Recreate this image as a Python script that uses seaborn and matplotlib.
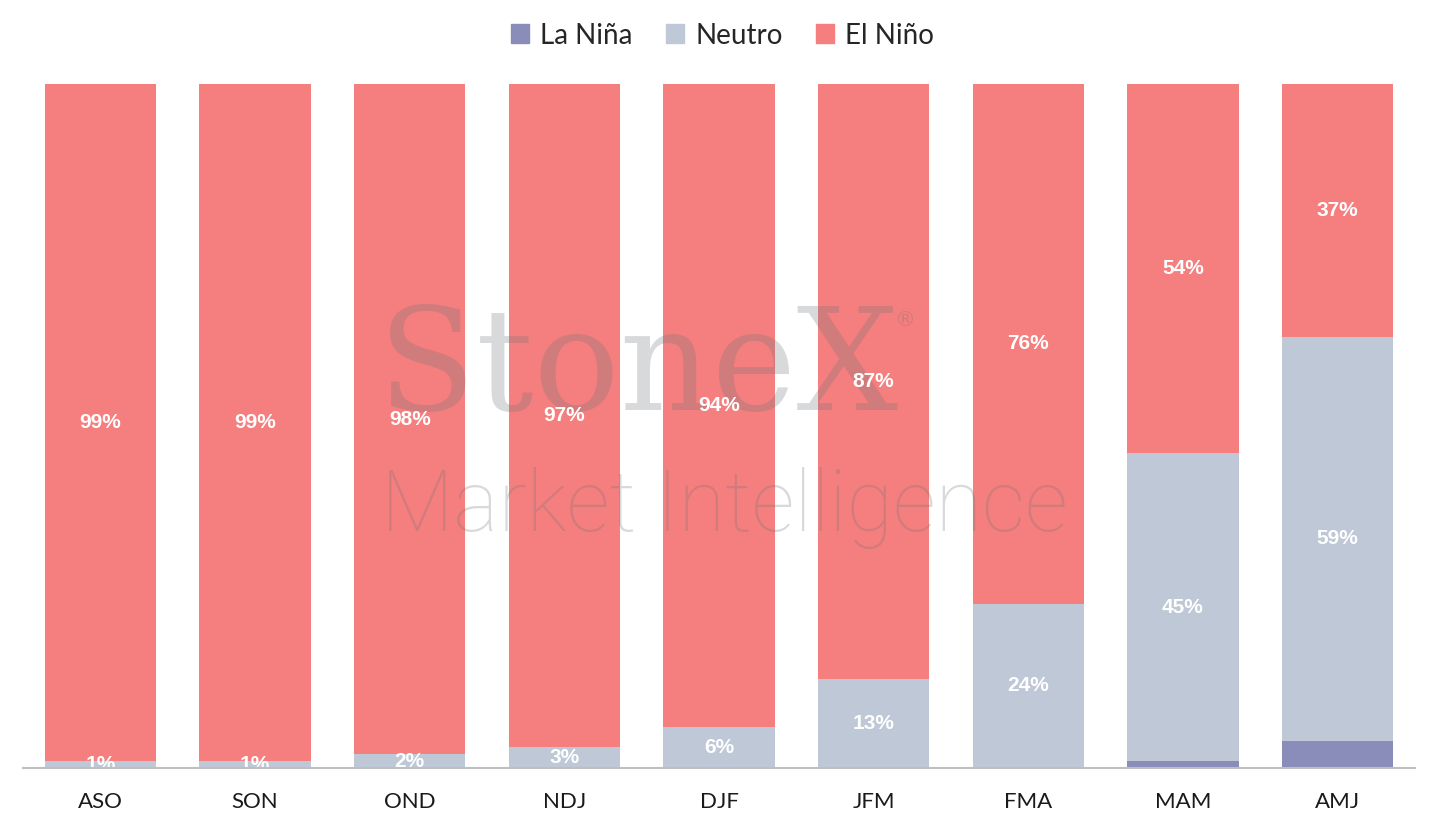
import pandas as pd
import matplotlib
matplotlib.use("Agg")
import matplotlib.pyplot as plt
import seaborn as sns
from matplotlib.patches import Patch

# datos del grafico (probabilidad ENSO por trimestre)
trimestres = ["ASO", "SON", "OND", "NDJ", "DJF", "JFM", "FMA", "MAM", "AMJ"]
la_nina = [0, 0, 0, 0, 0, 0, 0, 1, 4]
neutro = [1, 1, 2, 3, 6, 13, 24, 45, 59]
el_nino = [99, 99, 98, 97, 94, 87, 76, 54, 37]

c_nina = "#8a8cba"
c_neutro = "#bec8d6"
c_nino = "#f57e7e"

df = pd.DataFrame({"trimestre": trimestres, "La Niña": la_nina,
                   "Neutro": neutro, "El Niño": el_nino})
df["base_neutro"] = df["La Niña"]
df["tope_neutro"] = df["La Niña"] + df["Neutro"]
df["tope_nino"] = df["tope_neutro"] + df["El Niño"]

sns.set_style("white")
plt.rcParams["font.family"] = ["Lato", "DejaVu Sans"]

fig = plt.figure(figsize=(14.39, 8.26), dpi=100)
ax = fig.add_axes([0.016, 0.0702, 0.9673, 0.8281])

# barras apiladas: se dibuja primero el total y luego encima las partes
for col, color in [("tope_nino", c_nino), ("tope_neutro", c_neutro), ("La Niña", c_nina)]:
    sns.barplot(data=df, x="trimestre", y=col, color=color, width=0.72,
                saturation=1, linewidth=0, edgecolor="none", ax=ax, zorder=1)

# marca de agua
gris = "#6f747a"
ax.text(0.2553, 0.523, "StoneX", transform=ax.transAxes, fontsize=103,
        family=["DejaVu Serif"], color=gris, alpha=0.27,
        ha="left", va="baseline", zorder=2)
ax.text(0.626, 0.646, "®", transform=ax.transAxes, fontsize=15,
        family=["DejaVu Sans"], color=gris, alpha=0.27,
        ha="left", va="baseline", zorder=2)
ax.text(0.2575, 0.346, "Market Intelligence", transform=ax.transAxes,
        fontsize=61, fontweight="light", family=["Roboto"], color=gris,
        alpha=0.27, ha="left", va="baseline", zorder=2)

# etiquetas de porcentaje
for i, fila in df.iterrows():
    if fila["Neutro"] > 0:
        ax.text(i, fila["base_neutro"] + fila["Neutro"] / 2, f"{fila['Neutro']}%",
                ha="center", va="center", color="white", fontsize=15,
                fontweight="bold", family=["Liberation Sans"], zorder=3)
    if fila["El Niño"] > 0:
        ax.text(i, fila["tope_neutro"] + fila["El Niño"] / 2, f"{fila['El Niño']}%",
                ha="center", va="center", color="white", fontsize=15,
                fontweight="bold", family=["Liberation Sans"], zorder=3)

ax.set_xlim(-0.5, 8.5)
ax.set_ylim(0, 100)
ax.set_xlabel("")
ax.set_ylabel("")
ax.set_yticks([])
ax.tick_params(axis="x", length=0, pad=17, labelsize=16, labelcolor="#1a1a1a")
for lado in ["top", "left", "right"]:
    ax.spines[lado].set_visible(False)
ax.spines["bottom"].set_color("#bfbfbf")
ax.spines["bottom"].set_linewidth(1.5)
ax.spines["bottom"].set_zorder(4)

handles = [Patch(color=c_nina, label="La Niña"),
           Patch(color=c_neutro, label="Neutro"),
           Patch(color=c_nino, label="El Niño")]
fig.legend(handles=handles, loc="center", bbox_to_anchor=(0.502, 0.957), ncol=3,
           frameon=False, fontsize=20, handlelength=0.65, handleheight=0.65,
           handletextpad=0.4, columnspacing=1.2)

fig.savefig("out.png", dpi=100)
